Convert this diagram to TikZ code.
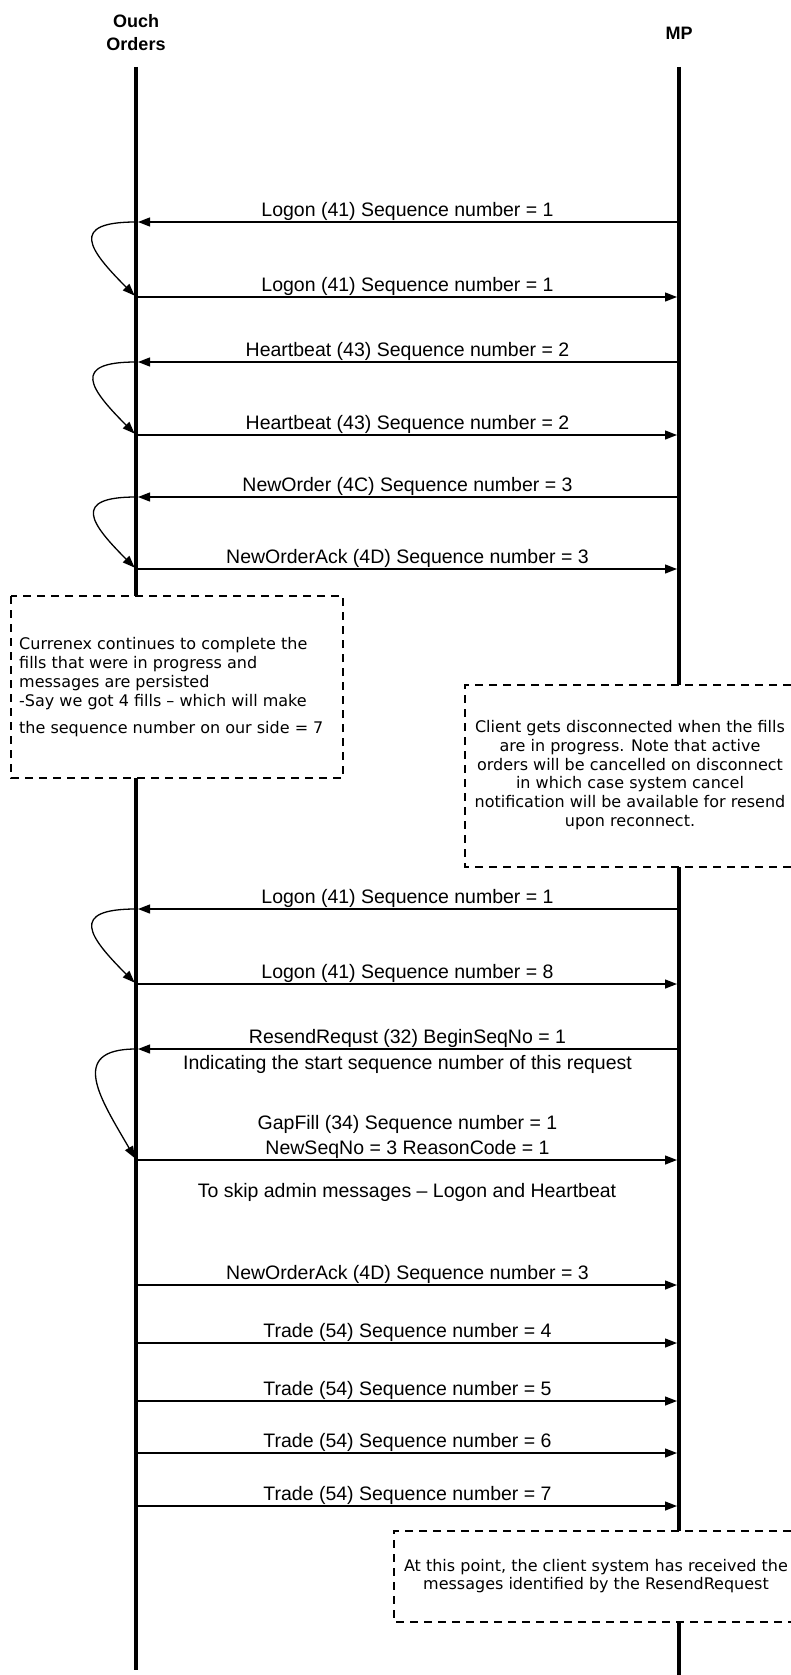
\documentclass[tikz,border=0pt]{standalone}
\usepackage{fontspec}
\setmainfont{Liberation Sans}
\newfontfamily\notefont{DejaVu Sans}
\usetikzlibrary{arrows.meta}

\begin{document}
\begin{tikzpicture}[
    x=1pt, y=-1pt,
    % Global styles
    head/.style={font=\fontsize{18}{23}\selectfont\bfseries, align=center, inner sep=0pt},
    lifeline/.style={line width=4pt},
    msg/.style={line width=1.3pt, -{Triangle[length=12pt, width=9pt]}, shorten >=2pt},
    loopback/.style={msg},
    lbl/.style={font=\fontsize{19.5}{22}\selectfont, anchor=base, inner sep=0pt, yshift=6pt},
    sublbl/.style={font=\fontsize{19.5}{22}\selectfont, anchor=base, inner sep=0pt, yshift=-20pt},
    notebox/.style={draw, fill=white, line width=1.3pt, dash pattern=on 8pt off 6pt},
    notetext/.style={font=\notefont\fontsize{16}{18.8}\selectfont, inner sep=0pt}
    ]
    \useasboundingbox (0,0) rectangle (791,1675);

    % ===========================
    % HEADERS AND LIFELINES
    % ===========================
    \node[head] (ouch) at (136,33) {Ouch\\Orders};
    \node[head] (mp) at (679,33) {MP};

    \coordinate (ouchtop) at (136,67);
    \coordinate (ouchbot) at (136,1670);
    \coordinate (mptop) at (679,67);
    \coordinate (mpbot) at (679,1675);

    \draw[lifeline] (ouchtop) -- (ouchbot);
    \draw[lifeline] (mptop) -- (mpbot);

    % ===========================
    % NOTES
    % ===========================
    % Left note over Ouch Orders
    \draw[notebox] (11,596) rectangle (343,778);
    \node[notetext, align=left, anchor=west] (fills) at (19,687)
        {Currenex continues to complete the\\
         fills that were in progress and\\
         messages are persisted\\
         -Say we got 4 fills – which will make\\[8pt]
         the sequence number on our side = 7};

    % Right note over MP (runs off the edge)
    \fill[white] (465,685) rectangle (791,867);
    \draw[notebox, fill=none] (791,685) -| (465,867) -- (791,867);
    \node[notetext, align=center] (disconnect) at (630,775)
        {Client gets disconnected when the fills\\
         are in progress. Note that active\\
         orders will be cancelled on disconnect\\
         in which case system cancel\\
         notification will be available for resend\\
         upon reconnect.};

    % Bottom note over MP
    \fill[white] (394,1531) rectangle (791,1622);
    \draw[notebox, fill=none] (791,1531) -| (394,1622) -- (791,1622);
    \node[notetext, align=center] (received) at (596,1576)
        {At this point, the client system has received the\\
         messages identified by the ResendRequest};

    % ===========================
    % MESSAGE POINTS
    % ===========================
    \coordinate (o1) at (136,222);   \coordinate (p1) at (679,222);
    \coordinate (o2) at (136,297);   \coordinate (p2) at (679,297);
    \coordinate (o3) at (136,362);   \coordinate (p3) at (679,362);
    \coordinate (o4) at (136,435);   \coordinate (p4) at (679,435);
    \coordinate (o5) at (136,497);   \coordinate (p5) at (679,497);
    \coordinate (o6) at (136,569);   \coordinate (p6) at (679,569);
    \coordinate (o7) at (136,909);   \coordinate (p7) at (679,909);
    \coordinate (o8) at (136,984);   \coordinate (p8) at (679,984);
    \coordinate (o9) at (136,1049);  \coordinate (p9) at (679,1049);
    \coordinate (o10) at (136,1160); \coordinate (p10) at (679,1160);
    \coordinate (o11) at (136,1285); \coordinate (p11) at (679,1285);
    \coordinate (o12) at (136,1343); \coordinate (p12) at (679,1343);
    \coordinate (o13) at (136,1401); \coordinate (p13) at (679,1401);
    \coordinate (o14) at (136,1453); \coordinate (p14) at (679,1453);
    \coordinate (o15) at (136,1506); \coordinate (p15) at (679,1506);

    % ===========================
    % FIRST SESSION
    % ===========================
    \draw[msg] (p1) -- node[lbl] (l1) {Logon (41) Sequence number = 1} (o1);
    \draw[msg] (o2) -- node[lbl] (l2) {Logon (41) Sequence number = 1} (p2);
    \draw[msg] (p3) -- node[lbl] (l3) {Heartbeat (43) Sequence number = 2} (o3);
    \draw[msg] (o4) -- node[lbl] (l4) {Heartbeat (43) Sequence number = 2} (p4);
    \draw[msg] (p5) -- node[lbl] (l5) {NewOrder (4C) Sequence number = 3} (o5);
    \draw[msg] (o6) -- node[lbl] (l6) {NewOrderAck (4D) Sequence number = 3} (p6);

    % Replies
    \draw[loopback] (o1) to[out=180, in=135, looseness=2.3] (o2);
    \draw[loopback] (o3) to[out=180, in=135, looseness=2.3] (o4);
    \draw[loopback] (o5) to[out=180, in=135, looseness=2.3] (o6);

    % ===========================
    % RECONNECT AND RESEND
    % ===========================
    \draw[msg] (p7) -- node[lbl] (l7) {Logon (41) Sequence number = 1} (o7);
    \draw[msg] (o8) -- node[lbl] (l8) {Logon (41) Sequence number = 8} (p8);
    \draw[msg] (p9) -- node[lbl] (l9) {ResendRequst (32) BeginSeqNo = 1}
        node[sublbl] (l9b) {Indicating the start sequence number of this request} (o9);
    \draw[msg] (o10) -- node[lbl, yshift=25pt] (l10) {GapFill (34) Sequence number = 1}
        node[lbl] (l10b) {NewSeqNo = 3 ReasonCode = 1} (p10);

    \draw[loopback] (o7) to[out=180, in=135, looseness=2.3] (o8);
    \draw[loopback] (o9) to[out=180, in=120, looseness=1.6] (o10);

    \node[font=\fontsize{19.5}{22}\selectfont, inner sep=0pt] (skip) at (407,1192)
        {To skip admin messages – Logon and Heartbeat};

    % ===========================
    % RESENT MESSAGES
    % ===========================
    \draw[msg] (o11) -- node[lbl] (l11) {NewOrderAck (4D) Sequence number = 3} (p11);
    \draw[msg] (o12) -- node[lbl] (l12) {Trade (54) Sequence number = 4} (p12);
    \draw[msg] (o13) -- node[lbl] (l13) {Trade (54) Sequence number = 5} (p13);
    \draw[msg] (o14) -- node[lbl] (l14) {Trade (54) Sequence number = 6} (p14);
    \draw[msg] (o15) -- node[lbl] (l15) {Trade (54) Sequence number = 7} (p15);

\end{tikzpicture}
\end{document}
